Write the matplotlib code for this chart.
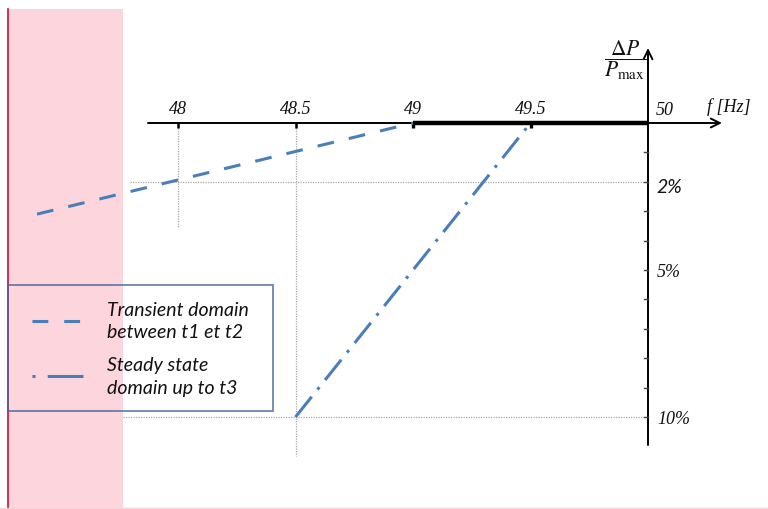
import matplotlib
matplotlib.use('Agg')
import matplotlib.pyplot as plt
from matplotlib.lines import Line2D
from matplotlib.patches import Rectangle
from matplotlib.font_manager import FontProperties

plt.rcParams['mathtext.fontset'] = 'stix'

# ---------------- data ----------------
freq_ticks = [48, 48.5, 49, 49.5]
freq_tick_labels = ['48', '48.5', '49', '49.5']
f_nominal = 50
transient_f = [47.4, 49.0]
transient_dp = [3.1, 0.0]
steady_f = [48.5, 49.5]
steady_dp = [10.0, 0.0]
deadband_f = [49.0, 50.0]
dp_ticks = [1, 2, 3, 4, 5, 6, 7, 8, 9, 10]
dp_label_vals = [2, 5, 10]
dp_label_txt = ['2%', '5%', '10%']
legend_labels = ['Transient domain\nbetween t1 et t2', 'Steady state\ndomain up to t3']

# ---------------- layout ----------------
W, H = 768, 510
fig = plt.figure(figsize=(7.68, 5.10), dpi=100)
ax = fig.add_axes([0, 0, 1, 1])
PX_PER_HZ = 235.0
PX_PER_PCT = 29.4
X0_PX, Y0_PX = 648, 124


def fx(px):
    return f_nominal + (px - X0_PX) / PX_PER_HZ


def py(px):
    return (px - Y0_PX) / PX_PER_PCT


ax.set_xlim(fx(0), fx(W))
ax.set_ylim(py(H), py(0))
ax.axis('off')

BLUE = '#4a7ebb'
GRID = '#a8a8a8'
serif = dict(family='Liberation Serif', style='italic', fontsize=13, color='#111111')
sans = FontProperties(family='Lato', style='italic', size=14)

# pink band and red line
ax.add_patch(Rectangle((fx(8), py(10)), fx(123) - fx(8), py(H) - py(10),
                       facecolor='#fdd5dd', edgecolor='none', zorder=0))
ax.plot([fx(8), fx(8)], [py(10), py(H)], color='#cc1038', lw=1.2, zorder=1)
ax.plot([fx(0), fx(W)], [py(508.5), py(508.5)], color='#f3d3da', lw=1, zorder=1)

# dotted guides
gkw = dict(color=GRID, lw=0.9, ls=(0, (1, 1)), zorder=1)
ax.plot([fx(130), fx(645)], [2, 2], **gkw)
ax.plot([fx(123), fx(645)], [10, 10], **gkw)
ax.plot([48, 48], [0, py(228)], **gkw)
ax.plot([48.5, 48.5], [0, py(457)], **gkw)

# frequency axis
ax.annotate('', xy=(fx(722), 0), xytext=(fx(148), 0),
            arrowprops=dict(arrowstyle='->,head_length=0.65,head_width=0.32',
                            lw=1.4, color='k', shrinkA=0, shrinkB=0), zorder=3)
ax.plot(deadband_f, [0, 0], color='k', lw=3.2, solid_capstyle='butt', zorder=4)
for f, lab in zip(freq_ticks, freq_tick_labels):
    ax.plot([f, f], [0, py(129)], color='k', lw=2.4 if f >= 49 else 1.8,
            solid_capstyle='butt', zorder=4)
    ax.text(f, py(110), lab, ha='center', va='center', **serif)
ax.text(fx(656), py(111), '50', ha='left', va='center', **serif)
ax.text(fx(707), py(107), 'f [Hz]', ha='left', va='center', **serif)

# vertical dP axis
ax.annotate('', xy=(f_nominal, py(49)), xytext=(f_nominal, py(446)),
            arrowprops=dict(arrowstyle='->,head_length=0.65,head_width=0.32',
                            lw=1.4, color='k', shrinkA=0, shrinkB=0), zorder=3)
for d in dp_ticks:
    ax.plot([fx(644), f_nominal], [d, d], color='#444444', lw=1.0, zorder=3)
for d, t in zip(dp_label_vals, dp_label_txt):
    if d == 2:
        ax.text(fx(656), d + 5 / PX_PER_PCT, t, ha='left', va='center',
                fontproperties=sans, color='#111111')
    else:
        ax.text(fx(657), d + 2 / PX_PER_PCT, t, ha='left', va='center', **serif)
ax.text(fx(625), py(60), r'$\dfrac{\Delta P}{P_{\mathrm{max}}}$', ha='center',
        va='center', fontsize=15.5, color='#111111')

# characteristic lines
ax.plot(transient_f, transient_dp, color=BLUE, lw=2.2,
        ls=(0, (5.5, 5)), dash_capstyle='butt', zorder=5)
ax.plot(steady_f, steady_dp, color=BLUE, lw=2.2,
        ls=(0, (8.5, 3, 1, 3)), dash_capstyle='butt', zorder=5)

# legend (handles start with a gap to indent the samples)
h1 = Line2D([], [], color=BLUE, lw=2.2, ls=(7.8, (5.2, 5.2)), dash_capstyle='butt')
h2 = Line2D([], [], color=BLUE, lw=2.2, ls=(24.4, (1, 4, 12, 10)), dash_capstyle='butt')
leg = ax.legend([h1, h2], legend_labels, prop=sans, loc='upper left',
                bbox_to_anchor=(8 / W, (H - 409) / H, 265 / W, 123 / H),
                mode='expand', borderaxespad=0,
                fancybox=False, frameon=True, handlelength=3.04,
                handletextpad=1.24, borderpad=0.8, labelspacing=0.8)
leg.get_frame().set_facecolor('none')
leg.get_frame().set_edgecolor('#45679a')
leg.get_frame().set_linewidth(1.3)
for t in leg.get_texts():
    t.set_color('#111111')
    t.set_linespacing(1.42)
leg.set_zorder(6)

fig.savefig('out.png', dpi=100)
